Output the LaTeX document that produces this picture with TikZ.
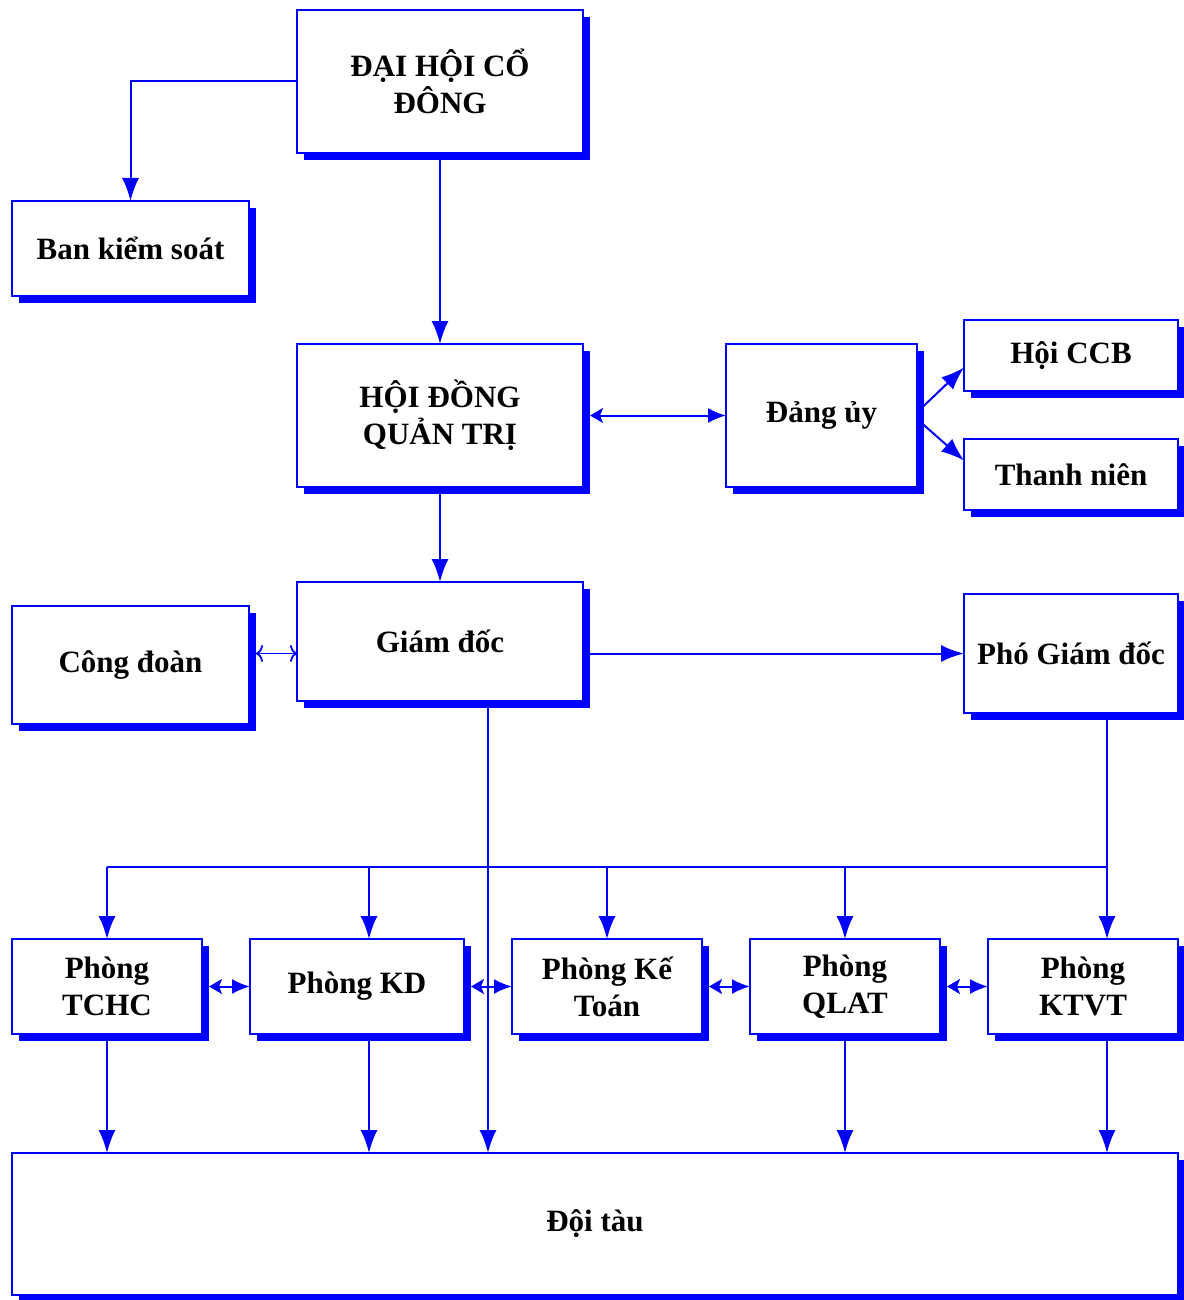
\documentclass[tikz,border=0pt]{standalone}
\usepackage{fontspec}
\setmainfont{Liberation Serif}
\usetikzlibrary{shadows,arrows.meta}
\definecolor{bl}{RGB}{0,0,255}
\tikzset{
  box/.style={draw=bl, line width=2pt, fill=white, inner sep=0pt, outer sep=0pt,
    align=center, font=\fontsize{31}{37}\selectfont\bfseries,
    drop shadow={shadow xshift=7pt, shadow yshift=-7pt, fill=bl, opacity=1}},
  conn/.style={draw=bl, line width=2pt},
  arr/.style={conn, -{Latex[length=23pt,width=17pt]}},
  dbl/.style={conn, {Stealth[length=13pt,width=15pt,inset=3pt]}-{Latex[length=18pt,width=15pt]}},
  opn/.style={conn, line width=1.8pt, {To[length=7pt,width=17pt]}-{To[length=7pt,width=17pt]}}
}
\begin{document}
\begin{tikzpicture}[x=1pt,y=-1pt]
\useasboundingbox (0,0) rectangle (1183,1300);
\node[box, minimum width=286pt, minimum height=143pt] (dhcd) at (440,81.5) {ĐẠI HỘI CỔ\\ĐÔNG};
\node[box, minimum width=237pt, minimum height=95pt] (bks) at (130.5,248.5) {Ban kiểm soát};
\node[box, minimum width=286pt, minimum height=143pt] (hdqt) at (440,415.5) {HỘI ĐỒNG\\QUẢN TRỊ};
\node[box, minimum width=191pt, minimum height=143pt] (dang) at (821.5,415.5) {Đảng ủy};
\node[box, minimum width=214pt, minimum height=71pt] (ccb) at (1071,355.5) {Hội CCB};
\node[box, minimum width=214pt, minimum height=71pt] (tn) at (1071,474.5) {Thanh niên};
\node[box, minimum width=286pt, minimum height=119pt] (gd) at (440,641.5) {Giám đốc};
\node[box, minimum width=237pt, minimum height=118pt] (cd) at (130.5,665) {Công đoàn};
\node[box, minimum width=214pt, minimum height=119pt] (pgd) at (1071,653.5) {Phó Giám đốc};
\node[box, minimum width=190pt, minimum height=95pt] (p1) at (107,986.5) {Phòng\\TCHC};
\node[box, minimum width=214pt, minimum height=95pt] (p2) at (357,986.5) {Phòng KD};
\node[box, minimum width=190pt, minimum height=95pt] (p3) at (607,986.5) {Phòng Kế\\Toán};
\node[box, minimum width=190pt, minimum height=95pt] (p4) at (845,986.5) {Phòng\\QLAT};
\node[box, minimum width=190pt, minimum height=95pt] (p5) at (1083,986.5) {Phòng\\KTVT};
\node[box, minimum width=1166pt, minimum height=142pt] (doi) at (595,1224) {Đội tàu};

% top connectors
\draw[arr] (dhcd.west) -| (bks.north);
\draw[arr] (dhcd.south) -- (hdqt.north);
\draw[arr] (hdqt.south) -- (gd.north);
\draw[dbl] ([xshift=7pt]hdqt.east) -- (dang.west);
\draw[arr] ([xshift=4pt,yshift=7pt]dang.east) -- ([yshift=-12pt]ccb.west);
\draw[arr] ([xshift=4pt,yshift=-7pt]dang.east) -- ([yshift=14pt]tn.west);
\coordinate (m) at (cd.east |- pgd.west);
\draw[opn] ([xshift=7pt]m) -- (gd.west |- pgd.west);
\draw[arr] (gd.east |- pgd.west) -- (pgd.west);

% bus
\coordinate (j1) at (107,867);
\coordinate (j2) at (369,867);
\coordinate (j3) at (607,867);
\coordinate (j4) at (845,867);
\coordinate (j5) at (1107,867);
\coordinate (jg) at (488,867);
\draw[conn] (j1) -- (j5);
\draw[arr] (j5 |- pgd.south) -- (j5 |- p5.north);
\foreach \i in {1,2,3,4} \draw[arr] (j\i) -- (j\i |- p\i.north);
\foreach \i in {1,2,4,5} \draw[arr] (j\i |- p\i.south) -- (j\i |- doi.north);
\draw[arr] (jg |- gd.south) -- (jg |- doi.north);

% between departments
\draw[dbl] ([xshift=7pt]p1.east) -- (p2.west);
\draw[dbl] ([xshift=7pt]p2.east) -- (p3.west);
\draw[dbl] ([xshift=7pt]p3.east) -- (p4.west);
\draw[dbl] ([xshift=7pt]p4.east) -- (p5.west);
\end{tikzpicture}
\end{document}
